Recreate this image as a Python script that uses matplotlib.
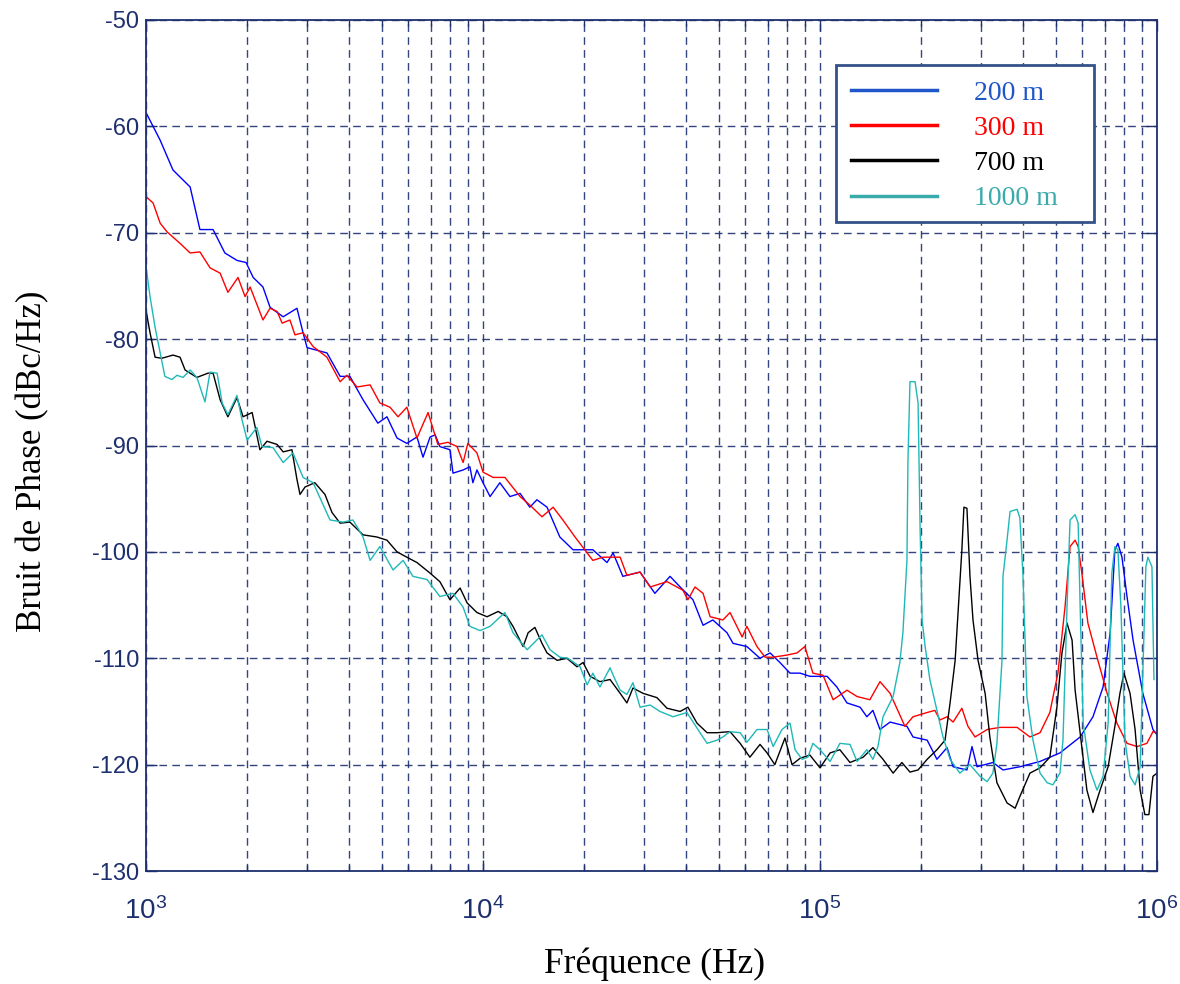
import matplotlib
matplotlib.use('Agg')
import matplotlib.pyplot as plt
from matplotlib.lines import Line2D
from matplotlib.patches import Rectangle
import numpy as np

# frequencies are read as decade exponents (log10 Hz), noise in dBc/Hz
logf_200 = [3.000, 3.042, 3.080, 3.131, 3.160, 3.199, 3.234, 3.270, 3.297, 3.318, 3.347, 3.368,
            3.407, 3.448, 3.466, 3.478, 3.537, 3.576, 3.605, 3.644, 3.688, 3.715, 3.745, 3.774,
            3.804, 3.822, 3.843, 3.858, 3.872, 3.902, 3.911, 3.941, 3.961, 3.970, 3.982, 4.000,
            4.021, 4.050, 4.080, 4.110, 4.139, 4.160, 4.190, 4.228, 4.267, 4.326, 4.368, 4.386,
            4.415, 4.466, 4.510, 4.555, 4.585, 4.623, 4.653, 4.682, 4.724, 4.742, 4.783, 4.822,
            4.852, 4.881, 4.911, 4.941, 4.970, 5.000, 5.021, 5.050, 5.080, 5.119, 5.139, 5.157,
            5.178, 5.208, 5.258, 5.276, 5.318, 5.347, 5.377, 5.395, 5.436, 5.451, 5.466, 5.513,
            5.543, 5.593, 5.653, 5.712, 5.772, 5.810, 5.840, 5.861, 5.875, 5.884, 5.896, 5.911,
            5.929, 5.958, 5.988, 6.000]
nb_200 = [-58.7, -61.3, -64.1, -65.7, -69.7, -69.7, -71.9, -72.6, -72.8, -74.2, -75.1, -77.0,
          -77.9, -77.1, -79.4, -80.8, -81.3, -83.5, -83.5, -85.7, -87.9, -87.3, -89.3, -89.8,
          -89.2, -91.1, -89.2, -89.0, -90.1, -90.4, -92.6, -92.3, -92.0, -93.5, -92.3, -93.5,
          -94.8, -93.5, -94.8, -94.5, -95.8, -95.1, -95.8, -98.6, -99.8, -99.8, -101.0, -100.1,
          -102.3, -101.9, -103.9, -102.3, -103.3, -104.5, -106.9, -106.4, -107.6, -108.6, -108.9, -110.0,
          -109.5, -110.4, -111.4, -111.4, -111.7, -111.7, -111.7, -112.7, -114.2, -114.6, -115.5, -114.9,
          -116.7, -116.0, -116.4, -117.4, -117.7, -119.5, -118.4, -120.2, -120.5, -118.3, -120.2, -119.8,
          -120.5, -120.2, -119.7, -118.9, -117.4, -115.5, -112.7, -107.6, -99.8, -99.2, -100.5, -104.2,
          -108.3, -113.3, -116.7, -117.2]

logf_300 = [3.000, 3.021, 3.042, 3.062, 3.101, 3.131, 3.160, 3.190, 3.220, 3.243, 3.273, 3.294,
            3.309, 3.347, 3.368, 3.389, 3.404, 3.427, 3.442, 3.466, 3.496, 3.537, 3.576, 3.596,
            3.626, 3.665, 3.694, 3.724, 3.748, 3.774, 3.804, 3.837, 3.866, 3.896, 3.923, 3.941,
            3.955, 3.982, 4.000, 4.030, 4.065, 4.110, 4.139, 4.175, 4.208, 4.237, 4.273, 4.326,
            4.356, 4.407, 4.427, 4.466, 4.496, 4.546, 4.593, 4.608, 4.629, 4.653, 4.674, 4.712,
            4.733, 4.769, 4.783, 4.813, 4.837, 4.861, 4.902, 4.932, 4.955, 4.979, 5.009, 5.039,
            5.080, 5.110, 5.148, 5.178, 5.208, 5.252, 5.276, 5.318, 5.341, 5.356, 5.377, 5.395,
            5.421, 5.439, 5.460, 5.496, 5.534, 5.585, 5.623, 5.653, 5.682, 5.706, 5.727, 5.742,
            5.757, 5.766, 5.777, 5.795, 5.822, 5.852, 5.881, 5.911, 5.941, 5.970, 5.988, 6.000]
nb_300 = [-66.6, -67.2, -69.1, -69.9, -71.0, -71.9, -71.8, -73.3, -73.8, -75.6, -74.2, -76.0,
          -75.1, -78.2, -77.1, -77.4, -78.5, -78.2, -79.6, -79.4, -80.7, -81.7, -84.0, -83.4,
          -84.5, -84.3, -86.0, -86.4, -87.3, -86.4, -89.3, -86.9, -89.9, -89.7, -90.1, -91.6,
          -89.8, -90.7, -92.5, -93.0, -93.0, -94.8, -95.6, -96.7, -95.8, -97.0, -98.6, -100.8,
          -100.5, -100.5, -102.2, -101.9, -103.3, -102.8, -103.6, -104.5, -103.3, -103.9, -106.1, -106.4,
          -105.7, -108.0, -107.0, -108.9, -109.9, -109.9, -109.7, -109.5, -108.9, -111.4, -111.6, -113.9,
          -113.0, -113.6, -113.9, -112.2, -113.3, -116.4, -115.5, -115.1, -114.9, -115.8, -115.5, -116.0,
          -114.7, -116.4, -117.4, -116.7, -116.5, -116.5, -117.4, -117.0, -115.1, -111.4, -105.2, -99.5,
          -98.9, -99.5, -102.0, -106.7, -109.9, -113.3, -116.1, -118.0, -118.3, -118.0, -116.9, -117.0]

logf_700 = [3.000, 3.012, 3.027, 3.047, 3.080, 3.101, 3.116, 3.151, 3.184, 3.199, 3.220, 3.243,
            3.270, 3.288, 3.315, 3.338, 3.359, 3.389, 3.407, 3.433, 3.448, 3.457, 3.472, 3.501,
            3.531, 3.552, 3.576, 3.605, 3.644, 3.685, 3.715, 3.745, 3.774, 3.804, 3.843, 3.872,
            3.902, 3.932, 3.953, 3.982, 4.012, 4.045, 4.071, 4.089, 4.119, 4.134, 4.154, 4.175,
            4.190, 4.220, 4.249, 4.279, 4.297, 4.318, 4.347, 4.377, 4.407, 4.427, 4.445, 4.475,
            4.516, 4.546, 4.585, 4.608, 4.635, 4.665, 4.694, 4.733, 4.763, 4.792, 4.822, 4.843,
            4.866, 4.896, 4.917, 4.941, 4.970, 5.000, 5.030, 5.059, 5.089, 5.128, 5.157, 5.187,
            5.217, 5.243, 5.267, 5.291, 5.318, 5.347, 5.371, 5.386, 5.401, 5.409, 5.421, 5.427,
            5.436, 5.445, 5.454, 5.469, 5.490, 5.504, 5.525, 5.555, 5.579, 5.593, 5.623, 5.653,
            5.682, 5.703, 5.718, 5.733, 5.748, 5.757, 5.772, 5.792, 5.810, 5.831, 5.855, 5.875,
            5.890, 5.902, 5.920, 5.935, 5.950, 5.964, 5.976, 5.988, 6.000]
nb_700 = [-77.3, -79.4, -81.7, -81.8, -81.5, -81.7, -82.9, -83.6, -83.2, -83.2, -85.7, -87.3,
          -85.5, -87.3, -86.9, -90.4, -89.6, -89.9, -90.6, -90.4, -93.2, -94.6, -93.9, -93.5,
          -94.6, -96.3, -97.3, -97.2, -98.4, -98.6, -98.9, -100.0, -100.5, -101.0, -102.0, -102.8,
          -104.5, -103.4, -104.8, -105.7, -106.1, -105.6, -106.1, -107.0, -108.9, -107.6, -107.1, -108.6,
          -109.5, -110.2, -110.0, -110.8, -110.4, -111.7, -112.2, -112.0, -113.3, -114.2, -112.8, -113.3,
          -113.7, -114.7, -115.0, -114.6, -116.1, -117.0, -117.0, -116.9, -118.0, -119.3, -118.1, -118.9,
          -120.0, -117.5, -120.0, -119.4, -119.1, -120.3, -118.9, -118.6, -119.8, -119.3, -118.4, -119.5,
          -120.8, -119.8, -120.7, -120.5, -119.5, -118.6, -117.7, -114.2, -110.2, -106.1, -99.8, -95.8,
          -95.9, -102.3, -106.4, -110.2, -113.3, -117.4, -121.7, -123.6, -124.1, -123.0, -120.8, -120.3,
          -119.3, -114.6, -109.5, -106.7, -108.3, -113.0, -117.0, -122.4, -124.5, -122.4, -120.2, -116.4,
          -113.3, -111.4, -113.3, -116.7, -122.4, -124.7, -124.7, -121.1, -120.8]

logf_1000 = [3.000, 3.012, 3.027, 3.042, 3.056, 3.077, 3.092, 3.110, 3.131, 3.151, 3.175, 3.190,
             3.211, 3.226, 3.243, 3.270, 3.285, 3.300, 3.329, 3.344, 3.377, 3.407, 3.436, 3.466,
             3.496, 3.546, 3.585, 3.614, 3.644, 3.665, 3.694, 3.733, 3.763, 3.792, 3.834, 3.872,
             3.911, 3.941, 3.961, 3.991, 4.021, 4.065, 4.089, 4.131, 4.175, 4.199, 4.228, 4.252,
             4.288, 4.309, 4.326, 4.347, 4.377, 4.392, 4.407, 4.427, 4.445, 4.466, 4.496, 4.525,
             4.564, 4.605, 4.644, 4.665, 4.694, 4.712, 4.733, 4.763, 4.783, 4.813, 4.843, 4.861,
             4.887, 4.911, 4.926, 4.947, 4.964, 4.979, 5.000, 5.030, 5.059, 5.089, 5.110, 5.139,
             5.157, 5.172, 5.187, 5.217, 5.237, 5.246, 5.258, 5.261, 5.267, 5.282, 5.291, 5.297,
             5.303, 5.312, 5.326, 5.347, 5.365, 5.386, 5.415, 5.445, 5.475, 5.496, 5.513, 5.525,
             5.540, 5.543, 5.555, 5.564, 5.585, 5.593, 5.602, 5.614, 5.632, 5.653, 5.674, 5.691,
             5.712, 5.721, 5.733, 5.742, 5.757, 5.766, 5.772, 5.781, 5.801, 5.822, 5.840, 5.855,
             5.866, 5.875, 5.884, 5.893, 5.905, 5.920, 5.935, 5.950, 5.958, 5.967, 5.973, 5.985,
             5.991]
nb_1000 = [-73.2, -76.0, -78.9, -81.3, -83.5, -83.8, -83.4, -83.6, -82.9, -83.6, -85.9, -83.1,
           -83.2, -86.0, -87.1, -85.3, -87.6, -89.5, -88.3, -90.1, -90.2, -91.6, -90.7, -93.0,
           -93.5, -97.0, -97.2, -97.0, -98.6, -100.8, -99.5, -101.7, -100.8, -102.3, -102.6, -104.2,
           -103.9, -105.2, -107.0, -107.4, -107.0, -105.7, -107.6, -109.2, -107.8, -109.2, -109.9, -110.0,
           -110.8, -112.5, -111.4, -112.7, -110.9, -112.0, -113.0, -113.4, -112.3, -114.6, -114.4, -115.0,
           -115.5, -115.1, -117.0, -118.0, -117.7, -117.4, -116.9, -117.0, -117.9, -116.7, -116.7, -118.3,
           -116.7, -116.1, -118.6, -119.5, -119.3, -118.0, -118.6, -119.7, -118.0, -118.1, -119.7, -118.6,
           -119.5, -118.3, -115.5, -113.6, -110.4, -107.6, -100.8, -91.4, -84.0, -84.0, -86.0, -97.7,
           -106.4, -108.9, -112.0, -114.9, -117.4, -119.5, -120.8, -120.0, -121.1, -121.6, -120.8, -118.0,
           -110.2, -102.3, -98.9, -96.2, -96.0, -96.8, -102.0, -113.6, -117.7, -120.8, -121.7, -121.9,
           -120.8, -117.7, -105.2, -97.0, -96.5, -97.3, -105.2, -116.1, -120.5, -122.4, -121.1, -116.1,
           -102.0, -99.5, -99.8, -105.2, -117.7, -121.1, -121.9, -120.2, -111.4, -101.4, -100.5, -101.4,
           -112.0]

labels = ['200 m', '300 m', '700 m', '1000 m']
line_colors = ['#0000FF', '#FF0000', '#000000', '#1FB8B8']
legend_colors = ['#1F57C8', '#FF0000', '#000000', '#3AABAB']

navy = '#1E2F6E'
plt.rcParams['font.family'] = ['Liberation Sans', 'DejaVu Sans']
plt.rcParams['axes.unicode_minus'] = False

fig = plt.figure(figsize=(11.8, 9.84), dpi=100)
ax = fig.add_axes([146 / 1180, 1 - 871 / 984, 1011 / 1180, 851 / 984])

series = [(logf_200, nb_200), (logf_300, nb_300), (logf_700, nb_700), (logf_1000, nb_1000)]
for (lf, nb), c in zip(series, line_colors):
    ax.plot(10 ** np.array(lf), nb, color=c, lw=1.0)

ax.set_xscale('log')
ax.set_xlim(1e3, 1e6)
ax.set_ylim(-130, -50)
ax.set_yticks(np.arange(-130, -49, 10))

ax.grid(True, which='major', color=navy, linestyle=(0, (5.5, 3.8)), lw=1.0, alpha=0.9)
ax.grid(True, which='minor', axis='x', color=navy, linestyle=(0, (5.5, 3.8)), lw=1.0, alpha=0.9)

for s in ax.spines.values():
    s.set_color(navy)
    s.set_linewidth(1.3)

ax.tick_params(which='both', direction='in', colors=navy, top=True, right=True)
ax.tick_params(which='major', length=8, width=1)
ax.tick_params(which='minor', length=4, width=1)
ax.tick_params(axis='x', pad=19, labelsize=20)
ax.tick_params(axis='y', pad=5, labelsize=17)

ax.set_xlabel('Fréquence (Hz)', family='Liberation Serif', fontsize=25.5, va='center')
ax.set_ylabel('Bruit de Phase (dBc/Hz)', family='Liberation Serif', fontsize=25, va='center')
ax.xaxis.set_label_coords(0.5025, -0.110)
ax.yaxis.set_label_coords(-0.112, 0.482)

# legend box drawn as its own frame so its width follows the reference
box = Rectangle((0.6825, 0.7626), 0.2552, 0.1845, transform=ax.transAxes,
                facecolor='white', edgecolor='#34528A', lw=2, zorder=4)
ax.add_patch(box)
handles = [Line2D([], [], color=c, lw=2.5) for c in legend_colors]
leg = ax.legend(handles, labels, loc='upper left', bbox_to_anchor=(0.6825, 0.947),
                prop={'family': 'Liberation Serif', 'size': 20}, handlelength=3.1,
                handletextpad=1.3, labelspacing=0.35, borderpad=0.55, frameon=False,
                borderaxespad=0)
leg.set_zorder(5)
for t, c in zip(leg.get_texts(), legend_colors):
    t.set_color(c)

fig.savefig('out.png', dpi=100)
